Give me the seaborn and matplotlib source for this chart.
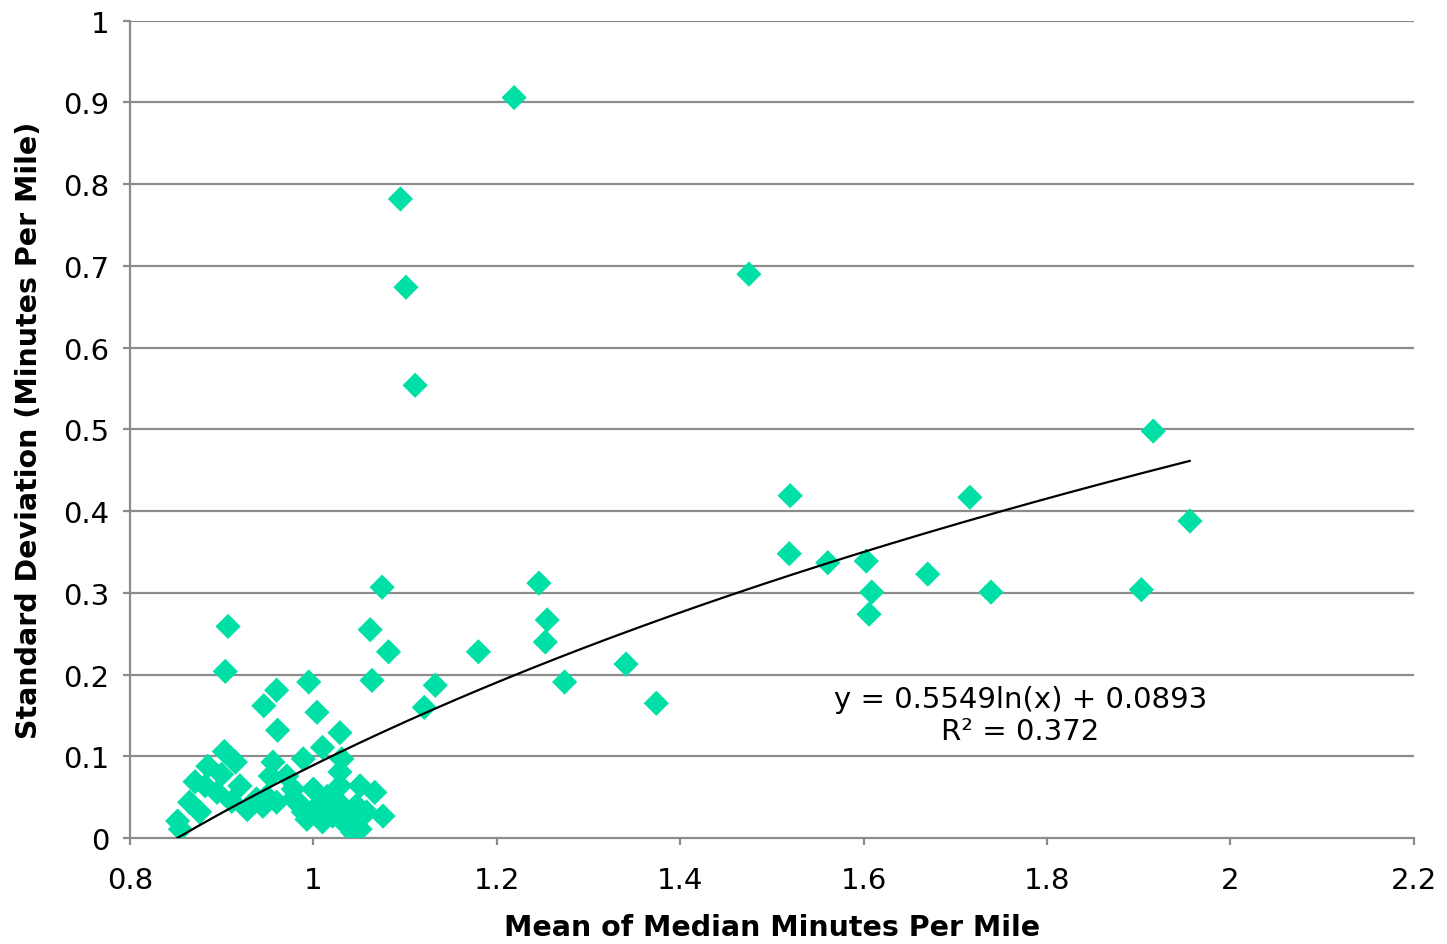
import numpy as np
import pandas as pd
import matplotlib
matplotlib.use("Agg")
import matplotlib.pyplot as plt
import seaborn as sns

# Data
mean_median = [
    1.219, 1.095, 1.101, 1.111, 1.475, 1.916, 1.520, 1.716, 1.956, 1.519,
    1.561, 1.603, 1.609, 1.606, 1.670, 1.739, 1.903, 1.246, 1.255, 1.253,
    1.274, 1.341, 1.374, 1.180, 1.075, 1.062, 1.082, 1.064, 1.133, 1.121,
    0.907, 0.904, 0.960, 0.946, 0.995, 1.004, 0.961, 1.029, 1.010, 0.989,
    1.031, 0.903, 0.885, 0.915, 0.871, 0.882, 0.900, 0.895, 0.920, 0.865,
    0.876, 0.852, 0.911, 0.928, 0.938, 0.956, 0.953, 0.971, 0.949, 0.960,
    0.945, 0.978, 0.989, 1.000, 1.004, 1.015, 1.021, 1.029, 1.029, 1.032,
    1.037, 1.043, 1.051, 1.051, 1.058, 1.067, 1.076, 0.993, 1.010, 0.978,
    1.047, 0.855, 1.024, 1.040, 1.018, 0.985,
]
std_dev = [
    0.906, 0.782, 0.674, 0.554, 0.690, 0.498, 0.419, 0.417, 0.388, 0.348,
    0.337, 0.339, 0.301, 0.274, 0.323, 0.301, 0.304, 0.312, 0.267, 0.240,
    0.191, 0.213, 0.165, 0.228, 0.307, 0.255, 0.228, 0.193, 0.187, 0.160,
    0.259, 0.204, 0.181, 0.162, 0.191, 0.154, 0.132, 0.129, 0.111, 0.097,
    0.097, 0.106, 0.088, 0.093, 0.069, 0.064, 0.078, 0.056, 0.064, 0.044,
    0.032, 0.021, 0.045, 0.035, 0.048, 0.093, 0.076, 0.076, 0.051, 0.044,
    0.039, 0.048, 0.032, 0.060, 0.039, 0.051, 0.027, 0.064, 0.081, 0.039,
    0.015, 0.007, 0.064, 0.011, 0.032, 0.056, 0.027, 0.023, 0.020, 0.060,
    0.040, 0.011, 0.045, 0.025, 0.035, 0.042,
]

# Logarithmic trendline coefficients (as shown on the chart)
trend_coef = [0.5549, 0.0893]
trend_range = [0.851, 1.956]
trend_label = ["y = 0.5549ln(x) + 0.0893", "R² = 0.372"]

x_ticks = [0.8, 1.0, 1.2, 1.4, 1.6, 1.8, 2.0, 2.2]
x_tick_labels = ["0.8", "1", "1.2", "1.4", "1.6", "1.8", "2", "2.2"]
y_ticks = [0, 0.1, 0.2, 0.3, 0.4, 0.5, 0.6, 0.7, 0.8, 0.9, 1.0]
y_tick_labels = ["0", "0.1", "0.2", "0.3", "0.4", "0.5", "0.6", "0.7", "0.8", "0.9", "1"]

df = pd.DataFrame({"x": mean_median, "y": std_dev})

sns.set_style("white")
plt.rcParams["font.family"] = ["DejaVu Sans"]

fig = plt.figure(figsize=(14.47, 9.45), dpi=100)
ax = fig.add_axes([0.0898, 0.112, 0.8872, 0.865])

ax.set_xlim(0.8, 2.2)
ax.set_ylim(0, 1)
for yv in y_ticks[1:]:
    ax.axhline(yv, color="#8c8c8c", lw=1.6, zorder=0)

sns.scatterplot(data=df, x="x", y="y", marker="D", s=165, color="#00E0A6",
                edgecolor="none", linewidth=0, ax=ax, zorder=3)

tx = np.linspace(trend_range[0], trend_range[1], 200)
ty = trend_coef[0] * np.log(tx) + trend_coef[1]
sns.lineplot(x=tx, y=ty, color="black", lw=1.6, ax=ax, zorder=4)

ax.text(1.771, 0.151, trend_label[0] + "\n" + trend_label[1], ha="center", va="center",
        fontsize=21, linespacing=1.2, color="black")

ax.set_xticks(x_ticks)
ax.set_xticklabels(x_tick_labels, fontsize=21, color="black")
ax.set_yticks(y_ticks)
ax.set_yticklabels(y_tick_labels, fontsize=21, color="black")
ax.tick_params(axis="both", direction="out", length=5, width=1.6, color="#8c8c8c",
               left=True, bottom=True)
ax.tick_params(axis="x", pad=15)
ax.tick_params(axis="y", pad=10)

for side in ["top", "right"]:
    ax.spines[side].set_visible(False)
for side in ["left", "bottom"]:
    ax.spines[side].set_color("#8c8c8c")
    ax.spines[side].set_linewidth(1.6)

ax.set_xlabel("Mean of Median Minutes Per Mile", fontsize=20.5, fontweight="bold",
              labelpad=14, color="black")
ax.set_ylabel("Standard Deviation (Minutes Per Mile)", fontsize=20.5, fontweight="bold",
              labelpad=14, color="black")

fig.savefig("out.png", dpi=100)
